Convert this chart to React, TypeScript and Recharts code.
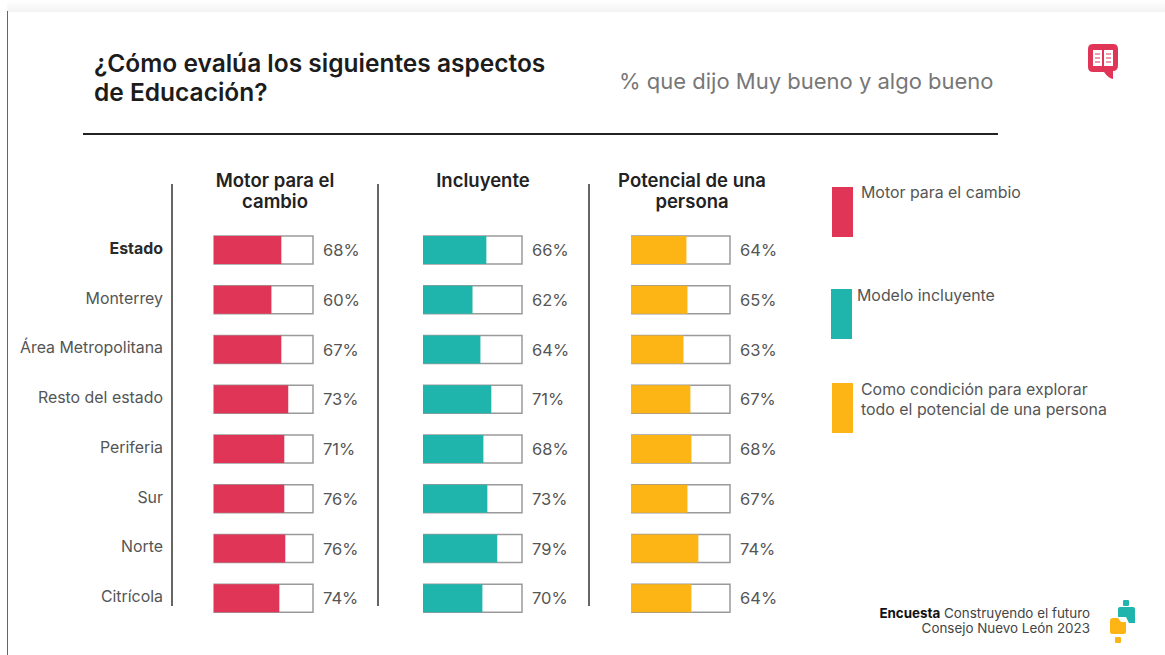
import { Bar, BarChart, LabelList, XAxis, YAxis } from "recharts";

const FONT = "Inter, 'Open Sans', sans-serif";

const regions = [
  "Estado",
  "Monterrey",
  "Área Metropolitana",
  "Resto del estado",
  "Periferia",
  "Sur",
  "Norte",
  "Citrícola",
];

// printed percentages
const motorLabels = [68, 60, 67, 73, 71, 76, 76, 74];
const incluyenteLabels = [66, 62, 64, 71, 68, 73, 79, 70];
const potencialLabels = [64, 65, 63, 67, 68, 67, 74, 64];

// drawn bar lengths (they do not always follow the printed number)
const motorBars = [68, 58, 68, 75, 71, 71, 72, 66];
const incluyenteBars = [64, 50, 58, 69, 61, 65, 75, 60];
const potencialBars = [56, 57, 53, 60, 61, 57, 68, 61];

const makeRows = (bars: number[], labels: number[]) =>
  regions.map((name, i) => ({ name, value: bars[i], label: `${labels[i]}%` }));

const RowTick = ({ x, y, payload }: any) => (
  <text
    x={x}
    y={y}
    dy={4}
    textAnchor="end"
    fontFamily={FONT}
    fontSize={15.9}
    fontWeight={payload.value === "Estado" ? 700 : 400}
    fill={payload.value === "Estado" ? "#2b2b2b" : "#555"}
  >
    {payload.value}
  </text>
);

function Panel({
  bars,
  labels,
  color,
  left,
  width,
  axisWidth = 0,
}: {
  bars: number[];
  labels: number[];
  color: string;
  left: number;
  width: number;
  axisWidth?: number;
}) {
  const labelGap = 60;
  const chartWidth = axisWidth + width + labelGap;
  return (
    <div style={{ position: "absolute", left, top: 225 }}>
      <BarChart
        width={chartWidth}
        height={398}
        layout="vertical"
        data={makeRows(bars, labels)}
        margin={{ top: 0, right: labelGap, bottom: 0, left: 0 }}
      >
        <XAxis type="number" domain={[0, 100]} hide />
        <YAxis
          type="category"
          dataKey="name"
          hide={axisWidth === 0}
          width={axisWidth}
          axisLine={false}
          tickLine={false}
          tickSize={0}
          tickMargin={51}
          interval={0}
          tick={<RowTick />}
        />
        <Bar
          dataKey="value"
          fill={color}
          barSize={28}
          isAnimationActive={false}
          background={{ fill: "#fff", stroke: "#9a9a9a", strokeWidth: 1.5 }}
        >
          <LabelList
            dataKey="label"
            content={(p: any) => (
              <text
                x={axisWidth + width + 10}
                y={p.y + p.height / 2 + 6}
                fontFamily={FONT}
                fontSize={16.5}
                fill="#555"
              >
                {p.value}
              </text>
            )}
          />
        </Bar>
      </BarChart>
    </div>
  );
}

const abs = (left: number, top: number, extra: React.CSSProperties = {}): React.CSSProperties => ({
  position: "absolute",
  left,
  top,
  fontFamily: FONT,
  ...extra,
});

const Header = ({ center, lines }: { center: number; lines: string[] }) => (
  <div
    style={abs(center - 100, 170, {
      width: 200,
      textAlign: "center",
      fontSize: 18.5,
      lineHeight: "21px",
      fontWeight: 600,
      color: "#222",
    })}
  >
    {lines.map((l) => (
      <div key={l}>{l}</div>
    ))}
  </div>
);

const legendSwatches = [
  { left: 832, top: 187, color: "#E13557" },
  { left: 831, top: 289, color: "#20B5AC" },
  { left: 832, top: 383, color: "#FDB515" },
];

const legendTexts = [
  { left: 861, top: 183, text: "Motor para el cambio" },
  { left: 857, top: 286, text: "Modelo incluyente" },
  { left: 861, top: 380, text: "Como condición para explorar" },
  { left: 861, top: 400, text: "todo el potencial de una persona" },
];

const dividers = [172, 378, 589];

export default function App() {
  return (
    <div
      style={{
        position: "absolute",
        left: 0,
        top: 0,
        width: 1165,
        height: 655,
        background: "#fff",
        overflow: "hidden",
      }}
    >
      <div
        style={abs(7, 0, {
          width: 1158,
          height: 12,
          background: "linear-gradient(#fff, #f3f3f3)",
        })}
      />
      <div style={abs(7, 11, { width: 1, height: 644, background: "#666" })} />

      <div
        style={abs(94, 49, {
          fontSize: 24.5,
          lineHeight: "29px",
          fontWeight: 600,
          color: "#1c1c1c",
          whiteSpace: "nowrap",
        })}
      >
        ¿Cómo evalúa los siguientes aspectos
        <br />
        de Educación?
      </div>
      <div style={abs(619, 68, { fontSize: 22, color: "#777", whiteSpace: "nowrap" })}>
        % que dijo Muy bueno y algo bueno
      </div>
      <div style={abs(83, 133, { width: 915, height: 2, background: "#222" })} />

      {dividers.map((x) => (
        <div key={x} style={abs(x - 1, 184, { width: 1.5, height: 422, background: "#666" })} />
      ))}

      <Header center={275} lines={["Motor para el", "cambio"]} />
      <Header center={483} lines={["Incluyente"]} />
      <Header center={692} lines={["Potencial de una", "persona"]} />

      <Panel bars={motorBars} labels={motorLabels} color="#E13557" left={0} width={99} axisWidth={214} />
      <Panel bars={incluyenteBars} labels={incluyenteLabels} color="#20B5AC" left={423} width={99} />
      <Panel bars={potencialBars} labels={potencialLabels} color="#FDB515" left={631} width={99} />

      {legendSwatches.map((s) => (
        <div key={s.top} style={abs(s.left, s.top, { width: 21, height: 50, background: s.color })} />
      ))}
      {legendTexts.map((t) => (
        <div key={t.text} style={abs(t.left, t.top, { fontSize: 15.9, color: "#555", whiteSpace: "nowrap" })}>
          {t.text}
        </div>
      ))}

      <div
        style={abs(790, 606, {
          width: 300,
          textAlign: "right",
          fontSize: 13.4,
          lineHeight: "15px",
          color: "#444",
        })}
      >
        <b style={{ color: "#111" }}>Encuesta</b> Construyendo el futuro
        <br />
        Consejo Nuevo León 2023
      </div>

      <svg style={abs(1085, 40)} width={36} height={42} viewBox="0 0 36 42">
        <path
          d="M8 4 H28 Q33 4 33 9 V25 Q33 31 28 31 V39 Q23 38 19 32 H8 Q3 32 3 27 V9 Q3 4 8 4 Z"
          fill="#E13557"
        />
        <path d="M8 10 H17 V26 H8 Z M19 10 H28 V26 H19 Z" fill="#fff" />
        <path d="M10 14 H15 M10 18 H15 M10 22 H15 M21 14 H26 M21 18 H26 M21 22 H26" stroke="#E13557" strokeWidth={1} />
      </svg>

      <svg style={abs(1105, 596)} width={35} height={50} viewBox="0 0 35 50">
        <rect x={18} y={4} width={6} height={6} rx={1} fill="#20B5AC" />
        <path d="M15 11 H28 Q30 11 30 13 V27 H24 L21 21 H13 V13 Q13 11 15 11 Z" fill="#20B5AC" />
        <path d="M5 25 Q5 22 8 22 H13 L16 26 H21 V36 Q21 38 19 38 H7 Q5 38 5 36 Z" fill="#FDB515" />
        <rect x={10} y={41} width={6} height={6} rx={1} fill="#FDB515" />
      </svg>
    </div>
  );
}
